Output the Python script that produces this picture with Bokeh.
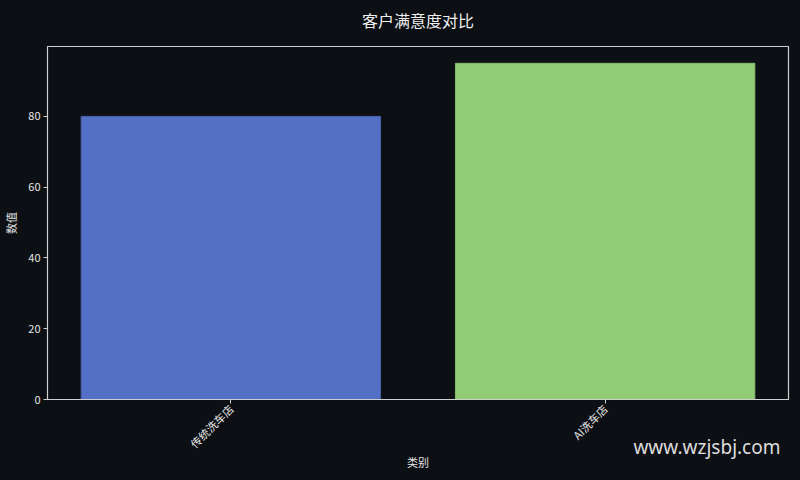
from bokeh.plotting import figure
from bokeh.models import Range1d, FixedTicker, Title, LinearAxis, ColumnDataSource
from bokeh.embed import file_html
from bokeh.resources import INLINE
import math

title_text = "客户满意度对比"
categories = ["传统洗车店", "AI洗车店"]
values = [80, 95]
colors = ["#5470c6", "#91cc75"]
edge_colors = ["#4a62ad", "#86bd6c"]
y_ticks = [0, 20, 40, 60, 80]

BG = "#0c0f14"
FG = "#e6e6e6"
CJK = "'Noto Sans CJK SC'"

xs = list(range(len(categories)))
src = ColumnDataSource(dict(x=xs, top=values, color=colors, edge=edge_colors, name=categories))

p = figure(width=800, height=480, output_backend="svg", toolbar_location=None,
           x_range=Range1d(-0.49, len(categories) - 0.51), y_range=Range1d(0, 99.75),
           min_border_left=47, min_border_right=12, min_border_top=46, min_border_bottom=81)

p.vbar(x="x", top="top", width=0.8, source=src, fill_color="color", line_color="edge", line_width=1)

p.background_fill_color = BG
p.border_fill_color = BG
p.outline_line_color = "#cfcfcf"
p.outline_line_width = 1.2
p.grid.visible = False

xa = p.below[0]
ya = p.left[0]

xa.ticker = FixedTicker(ticks=xs)
xa.major_label_overrides = {i: c for i, c in enumerate(categories)}
xa.major_label_orientation = math.pi / 4
ya.ticker = FixedTicker(ticks=y_ticks)

for ax in (xa, ya):
    ax.axis_line_color = "#cfcfcf"
    ax.major_tick_line_color = "#cfcfcf"
    ax.minor_tick_line_color = None
    ax.major_tick_out = 4
    ax.major_tick_in = 0
    ax.major_label_standoff = 3
    ax.major_label_text_color = FG
    ax.major_label_text_font = CJK
    ax.major_label_text_font_size = "11px"
    ax.axis_label_text_color = FG
    ax.axis_label_text_font = CJK
    ax.axis_label_text_font_size = "11px"
    ax.axis_label_text_font_style = "normal"

xa.axis_label = "类别"
ya.axis_label = "数值"
xa.axis_label_standoff = -6
ya.axis_label_standoff = 6

# chart title, drawn as the label of an empty axis above the frame
title_axis = LinearAxis(ticker=FixedTicker(ticks=[]), axis_label=title_text,
                        axis_line_color=None, major_tick_line_color=None,
                        minor_tick_line_color=None, major_tick_out=0, major_tick_in=0,
                        major_label_standoff=0, axis_label_standoff=15,
                        axis_label_text_color="#f0f0f0", axis_label_text_font=CJK,
                        axis_label_text_font_size="16px", axis_label_text_font_style="normal")
p.add_layout(title_axis, "above")

wm = Title(text="www.wzjsbj.com", align="right", offset=8, standoff=-78,
           vertical_align="top",
           text_color="#dddddd", text_font="'Noto Sans'", text_font_size="19px",
           text_font_style="normal")
p.add_layout(wm, "below")

html = file_html(p, INLINE)
html = html.replace("<body>", '<body style="background-color:%s;">' % BG)
open("out.html", "w").write(html)
